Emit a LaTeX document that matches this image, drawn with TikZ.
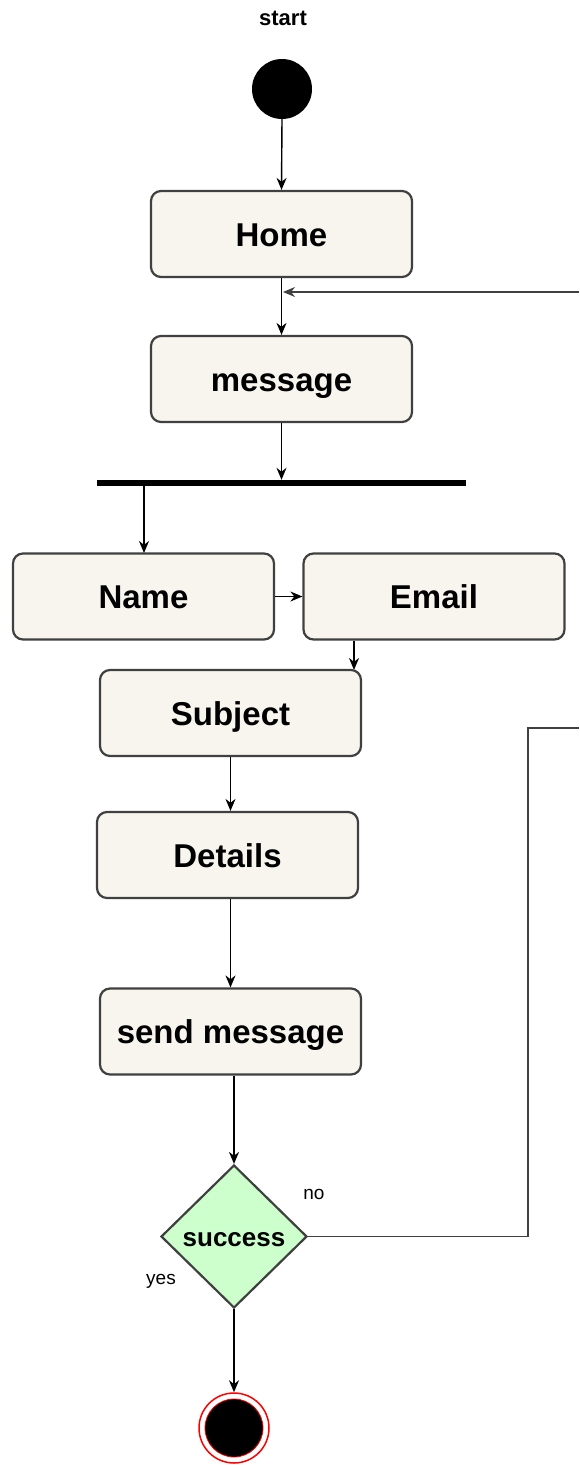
\documentclass[tikz,border=0pt]{standalone}
\usepackage{fontspec}
\setmainfont{Liberation Sans}
\usetikzlibrary{shapes.geometric,arrows.meta}
\definecolor{boxfill}{HTML}{F7F5EE}
\definecolor{boxline}{HTML}{404040}
\definecolor{decfill}{HTML}{CCFFCC}
\definecolor{loopline}{HTML}{404040}
\tikzset{
  actbox/.style={draw=boxline, fill=boxfill, line width=2.2pt, rounded corners=10pt,
    minimum width=261pt, minimum height=86pt, inner sep=0pt,
    text height=24pt, text depth=0pt,
    font=\fontsize{33}{40}\selectfont\bfseries},
  arr/.style={-{Stealth[length=12pt,width=10pt]}, line width=1.4pt, draw=black},
  plainline/.style={line width=1.5pt, draw=loopline},
  smalltxt/.style={font=\fontsize{19}{22}\selectfont, inner sep=0pt}
}
\begin{document}
\begin{tikzpicture}[x=1pt,y=-1pt]
\useasboundingbox (0,0) rectangle (579,1465);
\node[font=\fontsize{22}{26}\selectfont\bfseries, inner sep=0pt] (startlbl) at (283,18) {start};
\node[circle, fill=black, minimum width=60pt, minimum height=60pt, inner sep=0pt] (init) at (282,89) {};
\node[actbox] (home) at (281.5,234) {Home};
\node[actbox] (msg) at (281.5,379) {message};
\node[fill=black, minimum width=369pt, minimum height=6pt, inner sep=0pt] (bar) at (281.5,483) {};
\node[actbox] (name) at (143.5,596.5) {Name};
\node[actbox] (email) at (434,596.5) {Email};
\node[actbox] (subject) at (230.5,713) {Subject};
\node[actbox] (details) at (227.5,855) {Details};
\node[actbox] (send) at (230.5,1031.5) {send message};
\node[diamond, draw=boxline, fill=decfill, line width=2.2pt, minimum width=146pt, minimum height=143pt,
  inner sep=0pt, text height=19pt, text depth=0pt, font=\fontsize{26}{31}\selectfont\bfseries] (succ) at (234,1236.5) {success};
\node[circle, draw=red, fill=white, line width=1.5pt, minimum size=70pt, inner sep=0pt] (final) at (234,1428) {};
\node[circle, draw=red, fill=black, line width=0.8pt, minimum size=58pt, inner sep=0pt] (finaldot) at (final.center) {};
\node[smalltxt] (nolbl) at (314,1194) {no};
\node[smalltxt] (yeslbl) at (161,1281) {yes};
\coordinate (inright) at (579,292);
\coordinate (loopa) at (528,1236.5);
\coordinate (loopb) at (528,728);
\coordinate (loopc) at (579,728);
\coordinate (e2s) at (354,670);
\coordinate (b2n) at (144,553);
% connectors
\draw[arr] (init.south) -- (home.north);
\draw[arr] (home.south) -- (msg.north);
\draw[arr, line width=1.2pt, draw=loopline] (inright) -- ([xshift=1.5pt]home.south |- inright);
\draw[arr] (msg.south) -- (bar.north -| msg.south);
\draw[arr] (bar.south -| b2n) -- (b2n);
\draw[arr] (name.east) -- (email.west);
\draw[arr] (email.south -| e2s) -- (e2s);
\draw[arr] (subject.south) -- (details.north -| subject.south);
\draw[arr] (details.south -| subject.south) -- (send.north);
\draw[arr] (send.south -| succ.north) -- (succ.north);
\draw[arr] (succ.south) -- (final.north);
\draw[plainline] (succ.east) -- (loopa) -- (loopb) -- (loopc);
\end{tikzpicture}
\end{document}
